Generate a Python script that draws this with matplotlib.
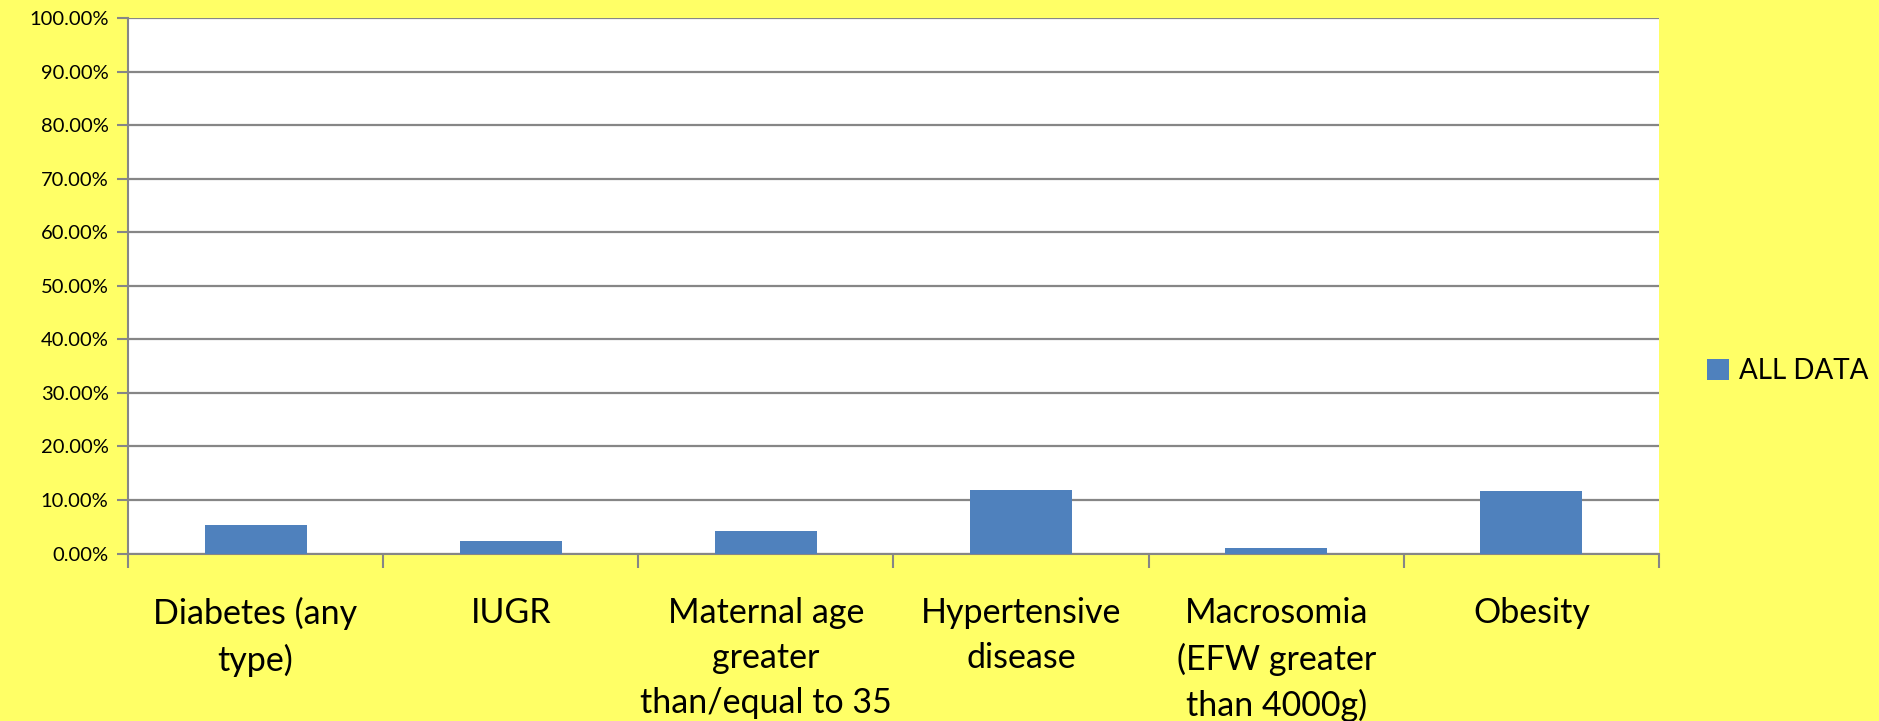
import numpy as np
import matplotlib
matplotlib.use("Agg")
from matplotlib import pyplot as plt
from matplotlib.ticker import FuncFormatter

# Categories and values (fractions, shown as percent)
categories = [
    "Diabetes (any\ntype)",
    "IUGR",
    "Maternal age\ngreater\nthan/equal to 35",
    "Hypertensive\ndisease",
    "Macrosomia\n(EFW greater\nthan 4000g)",
    "Obesity",
]
all_data = [0.054, 0.024, 0.042, 0.119, 0.0095, 0.116]
y_ticks = np.arange(0, 1.01, 0.1)

bg = "#FFFF66"
bar_color = "#4F81BD"
grid_color = "#868686"

plt.rcParams["font.family"] = ["Lato", "DejaVu Sans"]

fig = plt.figure(figsize=(18.79, 7.21), dpi=100, facecolor=bg)
ax = fig.add_axes([0.0681, 0.2323, 0.8148, 0.7427])
ax.set_facecolor("white")

x = np.arange(len(categories))
ax.bar(x, all_data, width=0.4, color=bar_color, label="ALL DATA", zorder=3)

ax.set_xlim(-0.5, len(categories) - 0.5)
ax.set_ylim(0, 1.0)
ax.set_yticks(y_ticks)
ax.yaxis.set_major_formatter(FuncFormatter(lambda v, p: "%.2f%%" % (v * 100)))
ax.grid(axis="y", color=grid_color, linewidth=1.6, zorder=0)
ax.tick_params(axis="y", length=8, width=1.5, color=grid_color, labelsize=14.5, pad=6)

# category labels in between boundary ticks
ax.set_xticks(np.arange(-0.5, len(categories), 1.0))
ax.set_xticklabels([])
ax.tick_params(axis="x", length=10, width=1.5, color=grid_color)
for i, lab in enumerate(categories):
    ax.text(i, -0.081, lab, ha="center", va="top", fontsize=24.5,
            linespacing=1.5, transform=ax.transData)

for side in ["top", "right"]:
    ax.spines[side].set_visible(False)
for side in ["left", "bottom"]:
    ax.spines[side].set_color(grid_color)
    ax.spines[side].set_linewidth(1.5)

fig.legend(loc="center left", bbox_to_anchor=(0.895, 0.485), frameon=False,
           fontsize=20, handlelength=0.8, handleheight=0.8, handletextpad=0.35)

fig.savefig("out.png", dpi=100, facecolor=bg)
